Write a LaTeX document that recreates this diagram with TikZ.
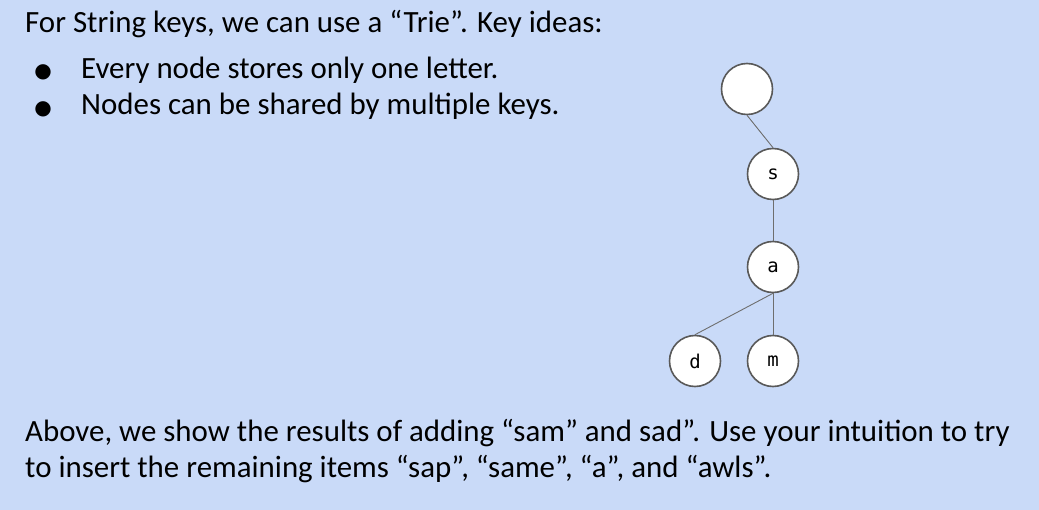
\documentclass[tikz,border=0pt]{standalone}
\usepackage{fontspec}
\setmainfont{Carlito}
\setmonofont{DejaVu Sans Mono}
\newfontfamily\symfont{DejaVu Sans}
\definecolor{slidebg}{HTML}{C9DAF8}
\definecolor{ringgray}{HTML}{595959}
\definecolor{edgegray}{HTML}{6E6E6E}
\begin{document}
\begin{tikzpicture}[x=1pt,y=-1pt,
  trienode/.style={circle,draw=ringgray,line width=1.6pt,fill=white,
    minimum size=51pt,inner sep=0pt,font=\ttfamily\fontsize{19}{19}\selectfont},
  trieedge/.style={draw=edgegray,line width=0.9pt},
  bodytext/.style={anchor=base west,inner sep=0pt,font=\fontsize{30.9}{34}\selectfont},
  bullet/.style={anchor=base,inner sep=0pt,font=\symfont\fontsize{20}{20}\selectfont}]
  % page background
  \fill[slidebg] (0,0) rectangle (1039,510);
  \useasboundingbox (0,0) rectangle (1039,510);

  % text block
  \node[bodytext] (intro) at (25,32.5) {For String keys, we can use a “Trie”. Key ideas:};
  \node[bullet] (b1) at (43,77.5) {●};
  \node[bodytext] (idea1) at (81,79) {Every node stores only one letter.};
  \node[bullet] (b2) at (43,114.5) {●};
  \node[bodytext] (idea2) at (81,115) {Nodes can be shared by multiple keys.};
  \node[bodytext] (task1) at (25,442) {Above, we show the results of adding “sam” and sad”. Use your intuition to try};
  \node[bodytext] (task2) at (25,477) {to insert the remaining items “sap”, “same”, “a”, and “awls”.};

  % trie
  \node[trienode] (root) at (747,89) {};
  \node[trienode] (s) at (773,174) {s};
  \node[trienode] (a) at (773,267) {a};
  \node[trienode] (d) at (695,361) {d};
  \node[trienode] (m) at (773,361) {m};

  \draw[trieedge] (root.south) -- (s.north);
  \draw[trieedge] (s.south) -- (a.north);
  \draw[trieedge] (a.south) -- (d.north);
  \draw[trieedge] (a.south) -- (m.north);
\end{tikzpicture}
\end{document}
